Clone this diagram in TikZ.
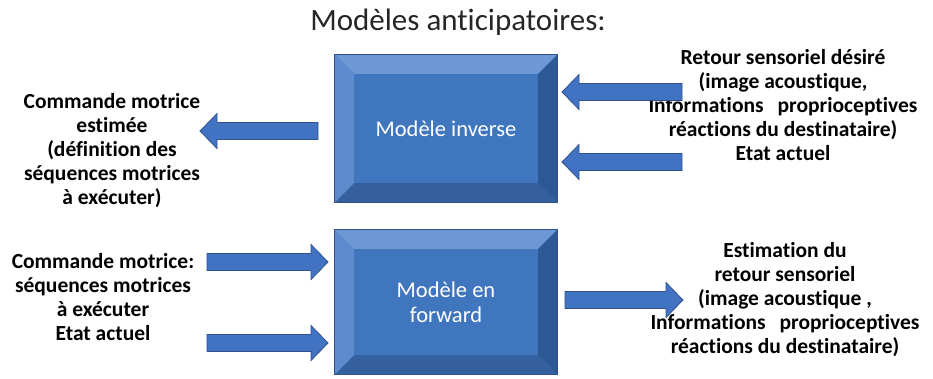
\documentclass[tikz,border=0pt]{standalone}
\usepackage{fontspec}
\setmainfont{Carlito}[Ligatures=NoCommon]
\usetikzlibrary{calc}
\definecolor{face}{RGB}{64,118,190}
\definecolor{bevtop}{RGB}{108,152,212}
\definecolor{bevleft}{RGB}{92,140,205}
\definecolor{bevright}{RGB}{44,88,148}
\definecolor{bevbottom}{RGB}{52,96,158}
\definecolor{edge}{RGB}{47,82,143}
\definecolor{arrfill}{RGB}{66,114,194}
\newcommand\bev{19}
\newcommand\bevels[1]{%
  \fill[bevtop] (#1.north west) -- (#1.north east) -- ($(#1.north east)+(-\bev,\bev)$) -- ($(#1.north west)+(\bev,\bev)$) -- cycle;
  \fill[bevbottom] (#1.south west) -- (#1.south east) -- ($(#1.south east)+(-\bev,-\bev)$) -- ($(#1.south west)+(\bev,-\bev)$) -- cycle;
  \fill[bevleft] (#1.north west) -- (#1.south west) -- ($(#1.south west)+(\bev,-\bev)$) -- ($(#1.north west)+(\bev,\bev)$) -- cycle;
  \fill[bevright] (#1.north east) -- (#1.south east) -- ($(#1.south east)+(-\bev,-\bev)$) -- ($(#1.north east)+(-\bev,\bev)$) -- cycle;
  \draw[edge,line width=1pt] (#1.north west) rectangle (#1.south east);
}
\newcommand\harrow[3]{%
  \filldraw[blockarrow] ($(#1)+(0,-8.5)$) -- ($(#2)+(-17*#3,-8.5)$) -- ($(#2)+(-17*#3,-17.5)$) -- (#2)
    -- ($(#2)+(-17*#3,17.5)$) -- ($(#2)+(-17*#3,8.5)$) -- ($(#1)+(0,8.5)$) -- cycle;
}
\newcommand\wgap{\hspace{14pt}}
\tikzset{
  modelbox/.style={fill=face, minimum width=222pt, text=white, align=center, inner sep=0pt,
    font=\fontsize{22.5}{25}\selectfont},
  lbl/.style={align=center, inner sep=0pt, font=\fontsize{21.5}{24}\selectfont\bfseries},
  blockarrow/.style={fill=arrfill, draw=edge, line width=0.8pt, line join=miter},
}
\begin{document}
\begin{tikzpicture}[x=1pt,y=-1pt]
\useasboundingbox[fill=white] (0,0) rectangle (933,378);
\node[font=\fontsize{31}{34}\selectfont, text=black!85] (title) at (458,22) {Modèles anticipatoires:};

\node[modelbox, minimum height=147pt] (inv) at (446,128.5) {};
\bevels{inv}
\node[modelbox, fill=none] (invt) at (inv.center) {Modèle inverse};

\node[modelbox, minimum height=144pt] (fwd) at (446,302) {};
\bevels{fwd}
\node[modelbox, fill=none] (fwdt) at (fwd.center) {Modèle en\\forward};

\node[lbl] (lt) at (112,151) {Commande motrice\\estimée\\(définition des\\séquences motrices\\à exécuter)};
\node[lbl] (rt) at (783,105) {Retour sensoriel désiré\\(image acoustique,\\Informations\wgap proprioceptives\\réactions du destinataire)\\Etat actuel};
\node[lbl] (lb) at (103,297) {Commande motrice:\\séquences motrices\\à exécuter\\Etat actuel};
\node[lbl] (rb) at (785,300) {Estimation du\\retour sensoriel\\(image acoustique ,\\Informations\wgap proprioceptives\\réactions du destinataire)};

\coordinate (aTail) at (318,131); \coordinate (aTip) at (200,131);
\coordinate (bTail) at (682,92);  \coordinate (bTip) at (562,92);
\coordinate (cTail) at (682,162); \coordinate (cTip) at (562,162);
\coordinate (dTail) at (207,262); \coordinate (dTip) at (328,262);
\coordinate (eTail) at (207,343); \coordinate (eTip) at (328,343);
\coordinate (fTail) at (565,300); \coordinate (fTip) at (683,300);
\harrow{aTail}{aTip}{-1}
\harrow{bTail}{bTip}{-1}
\harrow{cTail}{cTip}{-1}
\harrow{dTail}{dTip}{1}
\harrow{eTail}{eTip}{1}
\harrow{fTail}{fTip}{1}
\end{tikzpicture}
\end{document}
